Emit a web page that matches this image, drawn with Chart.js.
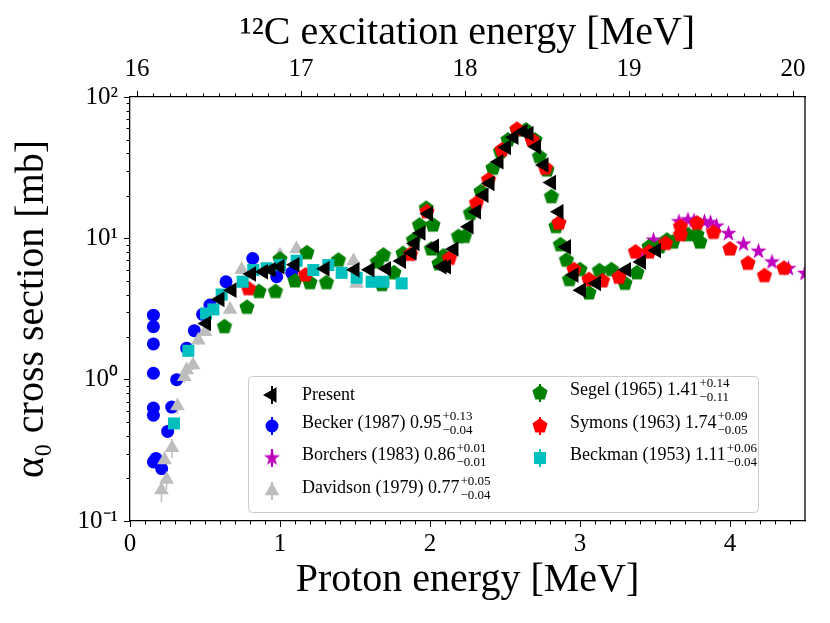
<!DOCTYPE html>
<html>
<head>
<meta charset="utf-8">
<script src="https://cdn.jsdelivr.net/npm/chart.js@4/dist/chart.umd.min.js"></script>
<style>
  html, body { margin: 0; padding: 0; background: #fff; }
</style>
</head>
<body>
<canvas id="chart" width="830" height="623"></canvas>
<script>
// --- data: proton energy [MeV] and alpha0 cross section [mb] ---
const presentE  = [0.51,0.60,0.68,0.81,0.89,0.94,1.00,1.10,1.30,1.50,1.60,1.71,1.81,1.88,1.90,1.94,1.99,2.03,2.08,2.11,2.16,2.26,2.31,2.36,2.40,2.46,2.51,2.56,2.62,2.66,2.71,2.76,2.81,2.86,2.91,2.96,3.01,3.11,3.31,3.41,3.51];
const presentXs = [2.5,3.7,4.3,5.6,5.8,6.0,6.3,6.5,6.1,6.0,6.0,6.1,6.9,7.9,9.2,10.9,14.9,8.8,6.3,6.3,8.4,12.1,15.4,20.2,24.5,34.8,44,52,57,55,44.5,33,24.8,15.4,8.7,5.5,4.3,4.8,6.0,6.8,8.2];

const beckerE  = [0.156,0.156,0.156,0.156,0.156,0.156,0.156,0.173,0.211,0.251,0.278,0.311,0.378,0.429,0.484,0.533,0.64,0.818,0.978,1.078];
const beckerXs = [2.86,2.37,1.79,1.11,0.63,0.56,0.262,0.277,0.235,0.43,0.64,1.0,1.67,2.22,2.9,3.37,4.93,7.2,5.35,5.7];

const borchersE  = [3.40,3.49,3.66,3.72,3.76,3.83,3.87,3.91,3.99,4.09,4.19,4.28,4.39,4.50];
const borchersXs = [7.5,9.7,13.1,13.5,13.3,13.1,12.9,12.2,10.8,9.1,8.1,6.8,6.1,5.65];

const davidsonE   = [0.21,0.23,0.244,0.28,0.316,0.362,0.378,0.42,0.456,0.50,0.667,0.744,1.00,1.11,1.49,1.51];
const davidsonXs  = [0.166,0.27,0.197,0.33,0.65,1.05,1.17,1.27,1.9,2.18,3.14,6.0,7.6,8.4,6.9,4.8];
const davidsonErr = [0.03,0.04,0.03,0.05,0.08,0.1,0.1,0.1,0.15,0.15,0.2,0.3,0.4,0.4,0.35,0.25];

const segelE  = [0.63,0.78,0.86,0.97,1.00,1.10,1.18,1.20,1.31,1.39,1.65,1.68,1.69,1.76,1.82,1.89,1.93,1.975,2.01,2.02,2.06,2.09,2.19,2.23,2.27,2.34,2.42,2.47,2.52,2.58,2.64,2.70,2.73,2.78,2.81,2.84,2.87,2.91,2.93,3.00,3.06,3.13,3.21,3.30,3.38,3.46,3.53,3.58,3.62,3.72,3.78,3.80];
const segelXs = [2.37,3.25,4.2,4.2,7.1,5.0,7.9,4.85,4.85,7.0,6.8,4.7,7.6,5.7,7.8,9.7,12.4,16.3,8.4,12.4,6.6,7.5,10.3,10.3,15.0,21.4,31.3,41,49.6,58.4,58.4,49.6,37.8,30.4,19.7,12.1,9.0,7.0,5.1,6.0,4.1,5.9,6.0,4.8,5.7,8.7,8.7,9.7,9.4,10.6,10.6,9.4];

const symonsE  = [0.79,1.17,1.87,1.98,2.13,2.31,2.39,2.48,2.58,2.68,2.77,2.86,2.96,3.06,3.15,3.26,3.37,3.46,3.57,3.67,3.67,3.78,3.89,4.00,4.12,4.23,4.36];
const symonsXs = [4.4,5.5,7.7,15.4,7.2,17.7,25.9,42.2,59,49.6,31.3,12.8,6.0,5.1,5.0,5.3,8.0,8.0,9.2,10.6,12.1,12.8,11.0,8.4,6.65,5.44,6.14];

const beckmanE  = [0.293,0.389,0.507,0.556,0.611,0.751,0.822,0.911,1.0,1.111,1.222,1.322,1.411,1.511,1.611,1.689,1.811];
const beckmanXs = [0.49,1.6,2.94,3.14,4.0,4.93,5.97,6.14,6.47,6.94,5.97,6.47,5.7,5.26,4.93,4.93,4.8];

// legend text (norm. factor with asymmetric errors)
const legendNames = ['Present','Becker (1987) 0.95','Borchers (1983) 0.86','Davidson (1979) 0.77','Segel (1965) 1.41','Symons (1963) 1.74','Beckman (1953) 1.11'];
const legendUp    = [null,'+0.13','+0.01','+0.05','+0.14','+0.09','+0.06'];
const legendDown  = [null,'\u22120.04','\u22120.01','\u22120.04','\u22120.11','\u22120.05','\u22120.04'];

// axes
const xTicks = [0, 1, 2, 3, 4];
const exTicks = [16, 17, 18, 19, 20];
const yTickValues = [0.1, 1, 10, 100];
const yTickLabels = ['10\u207B\u00B9', '10\u2070', '10\u00B9', '10\u00B2'];
const exMin = 15.957, exMax = 20.073;   // 12C excitation at Ep = 0 and 4.5 MeV

const FONT = "'Liberation Serif', 'Times New Roman', serif";

function toPts(xs, ys) { return xs.map((v, i) => ({ x: v, y: ys[i] })); }

// filled polygon / star marker images
function shapeImage(n, rOut, rIn, color) {
  const size = Math.ceil(rOut * 2) + 2;
  const c = document.createElement('canvas');
  c.width = c.height = size;
  const g = c.getContext('2d');
  const steps = rIn ? n * 2 : n;
  g.fillStyle = color;
  g.beginPath();
  for (let i = 0; i < steps; i++) {
    const r = (rIn && i % 2) ? rIn : rOut;
    const a = -Math.PI / 2 + i * 2 * Math.PI / steps;
    const px = size / 2 + r * Math.cos(a), py = size / 2 + r * Math.sin(a);
    if (i === 0) g.moveTo(px, py); else g.lineTo(px, py);
  }
  g.closePath();
  g.fill();
  return c;
}

const greenPent = shapeImage(5, 8, 0, '#008000');
const redPent = shapeImage(5, 8, 0, '#ff0000');
const magStar = shapeImage(5, 8.5, 3.4, '#bf00bf');

const series = [
  { label: 'Present',  data: toPts(presentE, presentXs),   color: '#000000', pointStyle: 'triangle', rotation: 270, radius: 9, order: 1 },
  { label: 'Becker',   data: toPts(beckerE, beckerXs),     color: '#0000ff', pointStyle: 'circle', rotation: 0, radius: 6.5, order: 7 },
  { label: 'Borchers', data: toPts(borchersE, borchersXs), color: '#bf00bf', pointStyle: magStar, rotation: 0, radius: 7, order: 6 },
  { label: 'Davidson', data: toPts(davidsonE, davidsonXs), color: '#bdbdbd', pointStyle: 'triangle', rotation: 0, radius: 8.5, order: 5 },
  { label: 'Segel',    data: toPts(segelE, segelXs),       color: '#008000', pointStyle: greenPent, rotation: 0, radius: 7, order: 4 },
  { label: 'Symons',   data: toPts(symonsE, symonsXs),     color: '#ff0000', pointStyle: redPent, rotation: 0, radius: 7, order: 3 },
  { label: 'Beckman',  data: toPts(beckmanE, beckmanXs),   color: '#00bfbf', pointStyle: 'rect', rotation: 0, radius: 8.5, order: 2 }
];

// Davidson error bars
const errorBars = {
  id: 'errorBars',
  beforeDatasetsDraw(chart) {
    const { ctx, scales: { x, y }, chartArea } = chart;
    ctx.save();
    ctx.beginPath();
    ctx.rect(chartArea.left, chartArea.top, chartArea.width, chartArea.height);
    ctx.clip();
    ctx.strokeStyle = '#bdbdbd';
    ctx.lineWidth = 1.5;
    davidsonE.forEach((e, i) => {
      const px = x.getPixelForValue(e);
      ctx.beginPath();
      ctx.moveTo(px, y.getPixelForValue(davidsonXs[i] - davidsonErr[i]));
      ctx.lineTo(px, y.getPixelForValue(davidsonXs[i] + davidsonErr[i]));
      ctx.stroke();
    });
    ctx.restore();
  }
};

// right spine + minor ticks
const frame = {
  id: 'frame',
  afterDraw(chart) {
    const { ctx, chartArea: ca, scales: { x, x2, y } } = chart;
    ctx.save();
    ctx.strokeStyle = '#000';
    ctx.lineWidth = 1.3;
    ctx.beginPath();
    ctx.moveTo(ca.right, ca.top);
    ctx.lineTo(ca.right, ca.bottom);
    ctx.stroke();
    ctx.lineWidth = 1;
    ctx.beginPath();
    for (let k = 1; k < 45; k++) {
      if (k % 10 === 0) continue;
      const px = Math.round(x.getPixelForValue(k / 10)) + 0.5;
      ctx.moveTo(px, ca.bottom); ctx.lineTo(px, ca.bottom + 3.5);
    }
    for (let k = 160; k <= 200; k++) {
      if (k % 10 === 0) continue;
      const px = Math.round(x2.getPixelForValue(k / 10)) + 0.5;
      ctx.moveTo(px, ca.top); ctx.lineTo(px, ca.top - 3.5);
    }
    [0.1, 1, 10].forEach(d => {
      for (let m = 2; m <= 9; m++) {
        const py = Math.round(y.getPixelForValue(m * d)) + 0.5;
        ctx.moveTo(ca.left, py); ctx.lineTo(ca.left - 3.5, py);
      }
    });
    ctx.stroke();
    ctx.restore();
  }
};

// legend box inside the plot, two columns
const legendBox = {
  id: 'legendBox',
  afterDatasetsDraw(chart) {
    const { ctx, chartArea: ca } = chart;
    const bx = ca.left + 118, by = ca.top + 279, bw = 510, bh = 136;
    ctx.save();
    ctx.fillStyle = 'rgba(255,255,255,0.85)';
    ctx.strokeStyle = '#cccccc';
    ctx.lineWidth = 1;
    ctx.beginPath();
    ctx.roundRect(bx + 0.5, by + 0.5, bw, bh, 4);
    ctx.fill();
    ctx.stroke();

    const rowsY = [19, 47, 79, 112, 14, 47, 79];
    series.forEach((s, i) => {
      const col = i < 4 ? 0 : 1;
      const mx = bx + (col ? 292 : 24);
      const tx = bx + (col ? 322 : 54);
      const ty = by + rowsY[i];
      const my = ty + (legendUp[i] ? 3 : 0);
      // marker with error bar
      ctx.strokeStyle = s.color;
      ctx.lineWidth = 2;
      ctx.beginPath();
      ctx.moveTo(mx, my - 9); ctx.lineTo(mx, my + 9);
      ctx.stroke();
      ctx.fillStyle = s.color;
      Chart.helpers.drawPoint(ctx, { pointStyle: s.pointStyle, radius: s.radius, rotation: s.rotation, borderWidth: 0 }, mx, my);
      // text
      ctx.fillStyle = '#000';
      ctx.textBaseline = 'middle';
      ctx.textAlign = 'left';
      ctx.font = '18px ' + FONT;
      ctx.fillText(legendNames[i], tx, ty);
      if (legendUp[i]) {
        const w = ctx.measureText(legendNames[i]).width;
        ctx.font = '13px ' + FONT;
        ctx.fillText(legendUp[i], tx + w + 1, ty - 6);
        ctx.fillText(legendDown[i], tx + w + 1, ty + 8);
      }
    });
    ctx.restore();
  }
};

const axisGrid = { drawOnChartArea: false, drawTicks: true, tickLength: 6, tickWidth: 1, tickColor: '#000', color: '#000' };
const axisBorder = { color: '#000', width: 1.3 };

new Chart(document.getElementById('chart').getContext('2d'), {
  type: 'scatter',
  data: {
    datasets: series.map(s => ({
      label: s.label,
      data: s.data,
      pointStyle: s.pointStyle,
      pointRotation: s.rotation,
      pointRadius: s.radius,
      pointHoverRadius: s.radius,
      backgroundColor: s.color,
      borderColor: s.color,
      borderWidth: 0,
      showLine: false,
      order: s.order,
      clip: 0
    }))
  },
  options: {
    responsive: false,
    animation: false,
    events: [],
    layout: { padding: { left: 0, right: 25, top: 0, bottom: 0 } },
    plugins: { legend: { display: false }, tooltip: { enabled: false } },
    scales: {
      x: {
        type: 'linear', position: 'bottom', min: 0, max: 4.5,
        afterBuildTicks: s => { s.ticks = xTicks.map(v => ({ value: v })); },
        ticks: { color: '#000', font: { family: FONT, size: 25 }, padding: 2, maxRotation: 0 },
        grid: axisGrid, border: axisBorder,
        title: { display: true, text: 'Proton energy [MeV]', color: '#000', font: { family: FONT, size: 40 }, padding: { top: 0, bottom: 19 } },
        afterFit: s => { s.height = 102; }
      },
      x2: {
        type: 'linear', axis: 'x', position: 'top', min: exMin, max: exMax,
        afterBuildTicks: s => { s.ticks = exTicks.map(v => ({ value: v })); },
        ticks: { color: '#000', font: { family: FONT, size: 25 }, padding: 7, maxRotation: 0 },
        grid: axisGrid, border: axisBorder,
        title: { display: true, text: '\u00B9\u00B2C excitation energy [MeV]', color: '#000', font: { family: FONT, size: 40 }, padding: { top: 9, bottom: 0 } },
        afterFit: s => { s.height = 97; }
      },
      y: {
        type: 'logarithmic', min: 0.1, max: 100,
        afterBuildTicks: s => { s.ticks = yTickValues.map(v => ({ value: v })); },
        ticks: { color: '#000', font: { family: FONT, size: 25 }, padding: 6,
          callback: (v) => yTickLabels[yTickValues.indexOf(v)] },
        grid: axisGrid, border: axisBorder,
        title: { display: true, text: '\u03B1\u2080 cross section [mb]', color: '#000', font: { family: FONT, size: 40 }, padding: { top: 8, bottom: 0 } },
        afterFit: s => { s.width = 130; }
      }
    }
  },
  plugins: [errorBars, frame, legendBox]
});
</script>
</body>
</html>
